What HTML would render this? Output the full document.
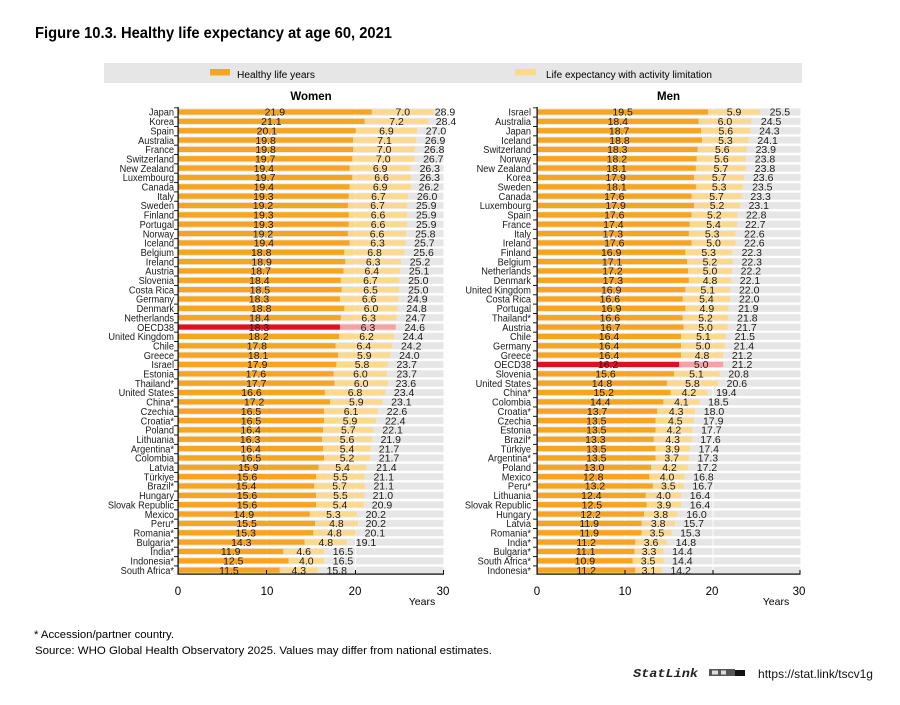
<!DOCTYPE html>
<html><head><meta charset="utf-8"><style>
html,body{margin:0;padding:0;background:#fff;}
svg{display:block;font-family:"Liberation Sans",Arial,sans-serif;}
.v text{font-size:10.5px;fill:#1a1a1a;text-anchor:middle;}
.n text{font-size:10.5px;fill:#1a1a1a;}
.a{fill:#F7A520;}
.b{fill:#FDD98C;}
</style></head><body>
<svg width="900" height="705" viewBox="0 0 900 705" xmlns="http://www.w3.org/2000/svg">
<defs>
<pattern id="bd" x="0" y="107.3" width="10" height="9.35" patternUnits="userSpaceOnUse"><rect y="1.2" width="10" height="7" fill="#e6e6e6"/></pattern>
<pattern id="tk" x="0" y="107.3" width="4" height="9.35" patternUnits="userSpaceOnUse"><rect width="4" height="0.9" fill="#000"/></pattern>
</defs>
<rect width="900" height="705" fill="#fff"/>
<text x="35" y="38" font-size="15.5" font-weight="bold" fill="#000" textLength="357" lengthAdjust="spacingAndGlyphs">Figure 10.3. Healthy life expectancy at age 60, 2021</text>

<!-- legend -->
<rect x="104" y="63" width="698" height="20" fill="#e6e6e6"/>
<rect x="210" y="69" width="20" height="6.5" fill="#F7A520"/>
<text x="237" y="78" font-size="10" fill="#000" textLength="78" lengthAdjust="spacingAndGlyphs">Healthy life years</text>
<rect x="515" y="69" width="21" height="6.5" fill="#FDD98C"/>
<text x="546" y="78" font-size="10" fill="#000" textLength="166" lengthAdjust="spacingAndGlyphs">Life expectancy with activity limitation</text>

<text x="311" y="100" font-size="11.5" font-weight="bold" text-anchor="middle" fill="#000">Women</text>
<text x="668.5" y="100" font-size="11.5" font-weight="bold" text-anchor="middle" fill="#000">Men</text>

<!-- ===== WOMEN PANEL ===== -->
<rect x="178" y="107.3" width="265.5" height="467.5" fill="url(#bd)"/>
<rect x="266" y="107.3" width="1" height="467" fill="#fff"/>
<rect x="355" y="107.3" width="1" height="467" fill="#fff"/>
<g transform="translate(178,109.4) scale(8.85,9.35)">
<g class="a">
<rect y="0" width="21.9" height=".556"/><rect y="1" width="21.1" height=".556"/><rect y="2" width="20.1" height=".556"/><rect y="3" width="19.8" height=".556"/><rect y="4" width="19.8" height=".556"/><rect y="5" width="19.7" height=".556"/><rect y="6" width="19.4" height=".556"/><rect y="7" width="19.7" height=".556"/><rect y="8" width="19.4" height=".556"/><rect y="9" width="19.3" height=".556"/><rect y="10" width="19.2" height=".556"/><rect y="11" width="19.3" height=".556"/><rect y="12" width="19.3" height=".556"/><rect y="13" width="19.2" height=".556"/><rect y="14" width="19.4" height=".556"/><rect y="15" width="18.8" height=".556"/><rect y="16" width="18.9" height=".556"/><rect y="17" width="18.7" height=".556"/><rect y="18" width="18.4" height=".556"/><rect y="19" width="18.5" height=".556"/><rect y="20" width="18.3" height=".556"/><rect y="21" width="18.8" height=".556"/><rect y="22" width="18.4" height=".556"/><rect y="24" width="18.2" height=".556"/><rect y="25" width="17.8" height=".556"/><rect y="26" width="18.1" height=".556"/><rect y="27" width="17.9" height=".556"/><rect y="28" width="17.6" height=".556"/><rect y="29" width="17.7" height=".556"/><rect y="30" width="16.6" height=".556"/><rect y="31" width="17.2" height=".556"/><rect y="32" width="16.5" height=".556"/><rect y="33" width="16.5" height=".556"/><rect y="34" width="16.4" height=".556"/><rect y="35" width="16.3" height=".556"/><rect y="36" width="16.4" height=".556"/><rect y="37" width="16.5" height=".556"/><rect y="38" width="15.9" height=".556"/><rect y="39" width="15.6" height=".556"/><rect y="40" width="15.4" height=".556"/><rect y="41" width="15.6" height=".556"/><rect y="42" width="15.6" height=".556"/><rect y="43" width="14.9" height=".556"/><rect y="44" width="15.5" height=".556"/><rect y="45" width="15.3" height=".556"/><rect y="46" width="14.3" height=".556"/><rect y="47" width="11.9" height=".556"/><rect y="48" width="12.5" height=".556"/><rect y="49" width="11.5" height=".556"/>
</g>
<g class="b">
<rect x="21.9" y="0" width="7.0" height=".556"/><rect x="21.1" y="1" width="7.2" height=".556"/><rect x="20.1" y="2" width="6.9" height=".556"/><rect x="19.8" y="3" width="7.1" height=".556"/><rect x="19.8" y="4" width="7.0" height=".556"/><rect x="19.7" y="5" width="7.0" height=".556"/><rect x="19.4" y="6" width="6.9" height=".556"/><rect x="19.7" y="7" width="6.6" height=".556"/><rect x="19.4" y="8" width="6.9" height=".556"/><rect x="19.3" y="9" width="6.7" height=".556"/><rect x="19.2" y="10" width="6.7" height=".556"/><rect x="19.3" y="11" width="6.6" height=".556"/><rect x="19.3" y="12" width="6.6" height=".556"/><rect x="19.2" y="13" width="6.6" height=".556"/><rect x="19.4" y="14" width="6.3" height=".556"/><rect x="18.8" y="15" width="6.8" height=".556"/><rect x="18.9" y="16" width="6.3" height=".556"/><rect x="18.7" y="17" width="6.4" height=".556"/><rect x="18.4" y="18" width="6.6" height=".556"/><rect x="18.5" y="19" width="6.5" height=".556"/><rect x="18.3" y="20" width="6.6" height=".556"/><rect x="18.8" y="21" width="6.0" height=".556"/><rect x="18.4" y="22" width="6.3" height=".556"/><rect x="18.2" y="24" width="6.2" height=".556"/><rect x="17.8" y="25" width="6.4" height=".556"/><rect x="18.1" y="26" width="5.9" height=".556"/><rect x="17.9" y="27" width="5.8" height=".556"/><rect x="17.6" y="28" width="6.0" height=".556"/><rect x="17.7" y="29" width="6.0" height=".556"/><rect x="16.6" y="30" width="6.8" height=".556"/><rect x="17.2" y="31" width="5.9" height=".556"/><rect x="16.5" y="32" width="6.1" height=".556"/><rect x="16.5" y="33" width="5.9" height=".556"/><rect x="16.4" y="34" width="5.7" height=".556"/><rect x="16.3" y="35" width="5.6" height=".556"/><rect x="16.4" y="36" width="5.4" height=".556"/><rect x="16.5" y="37" width="5.2" height=".556"/><rect x="15.9" y="38" width="5.4" height=".556"/><rect x="15.6" y="39" width="5.5" height=".556"/><rect x="15.4" y="40" width="5.7" height=".556"/><rect x="15.6" y="41" width="5.5" height=".556"/><rect x="15.6" y="42" width="5.4" height=".556"/><rect x="14.9" y="43" width="5.3" height=".556"/><rect x="15.5" y="44" width="4.8" height=".556"/><rect x="15.3" y="45" width="4.8" height=".556"/><rect x="14.3" y="46" width="4.8" height=".556"/><rect x="11.9" y="47" width="4.6" height=".556"/><rect x="12.5" y="48" width="4.0" height=".556"/><rect x="11.5" y="49" width="4.3" height=".556"/>
</g>
<rect y="23" width="18.3" height=".556" fill="#E2101E"/>
<rect x="18.3" y="23" width="6.3" height=".556" fill="#F4A3A0"/>
</g>
<!-- women axes -->
<rect x="174" y="107.3" width="4" height="467.5" fill="url(#tk)"/>
<rect x="177.5" y="107" width="1.2" height="467.5" fill="#000"/>
<rect x="177.5" y="573.5" width="266.5" height="1.2" fill="#000"/>
<rect x="266" y="570" width="1" height="4" fill="#000"/>
<rect x="355" y="570" width="1" height="4" fill="#000"/>
<rect x="443" y="570" width="1" height="4" fill="#000"/>
<g font-size="11.5" fill="#000" text-anchor="middle">
<text x="178" y="595">0</text><text x="267" y="595">10</text><text x="355" y="595">20</text><text x="443" y="595">30</text>
</g>
<text x="422" y="605" font-size="10.5" text-anchor="middle" fill="#000">Years</text>

<g class="n" transform="translate(174,0) scale(0.88,1)" text-anchor="end">
<text y="115.7">Japan</text><text y="125.1">Korea</text><text y="134.4">Spain</text><text y="143.8">Australia</text><text y="153.1">France</text><text y="162.5">Switzerland</text><text y="171.8">New Zealand</text><text y="181.2">Luxembourg</text><text y="190.5">Canada</text><text y="199.9">Italy</text><text y="209.2">Sweden</text><text y="218.6">Finland</text><text y="227.9">Portugal</text><text y="237.3">Norway</text><text y="246.6">Iceland</text><text y="256.0">Belgium</text><text y="265.3">Ireland</text><text y="274.7">Austria</text><text y="284.0">Slovenia</text><text y="293.4">Costa Rica</text><text y="302.7">Germany</text><text y="312.1">Denmark</text><text y="321.4">Netherlands</text><text y="330.8">OECD38</text><text y="340.1">United Kingdom</text><text y="349.5">Chile</text><text y="358.8">Greece</text><text y="368.2">Israel</text><text y="377.5">Estonia</text><text y="386.9">Thailand*</text><text y="396.2">United States</text><text y="405.6">China*</text><text y="414.9">Czechia</text><text y="424.3">Croatia*</text><text y="433.6">Poland</text><text y="443.0">Lithuania</text><text y="452.3">Argentina*</text><text y="461.7">Colombia</text><text y="471.0">Latvia</text><text y="480.4">Türkiye</text><text y="489.7">Brazil*</text><text y="499.1">Hungary</text><text y="508.4">Slovak Republic</text><text y="517.8">Mexico</text><text y="527.1">Peru*</text><text y="536.5">Romania*</text><text y="545.8">Bulgaria*</text><text y="555.2">India*</text><text y="564.5">Indonesia*</text><text y="573.9">South Africa*</text>
</g>

<g class="v">
<text x="274.9" y="115.7">21.9</text><text x="402.8" y="115.7">7.0</text><text x="445" y="115.7">28.9</text>
<text x="271.4" y="125.1">21.1</text><text x="396.6" y="125.1">7.2</text><text x="446" y="125.1">28.4</text>
<text x="266.9" y="134.4">20.1</text><text x="386.4" y="134.4">6.9</text><text x="436.0" y="134.4">27.0</text>
<text x="265.6" y="143.8">19.8</text><text x="384.6" y="143.8">7.1</text><text x="435.1" y="143.8">26.9</text>
<text x="265.6" y="153.1">19.8</text><text x="384.2" y="153.1">7.0</text><text x="434.2" y="153.1">26.8</text>
<text x="265.2" y="162.5">19.7</text><text x="383.3" y="162.5">7.0</text><text x="433.3" y="162.5">26.7</text>
<text x="263.8" y="171.8">19.4</text><text x="380.2" y="171.8">6.9</text><text x="429.8" y="171.8">26.3</text>
<text x="265.2" y="181.2">19.7</text><text x="381.5" y="181.2">6.6</text><text x="429.8" y="181.2">26.3</text>
<text x="263.8" y="190.5">19.4</text><text x="380.2" y="190.5">6.9</text><text x="428.9" y="190.5">26.2</text>
<text x="263.4" y="199.9">19.3</text><text x="378.4" y="199.9">6.7</text><text x="427.1" y="199.9">26.0</text>
<text x="263.0" y="209.2">19.2</text><text x="377.5" y="209.2">6.7</text><text x="426.2" y="209.2">25.9</text>
<text x="263.4" y="218.6">19.3</text><text x="378.0" y="218.6">6.6</text><text x="426.2" y="218.6">25.9</text>
<text x="263.4" y="227.9">19.3</text><text x="378.0" y="227.9">6.6</text><text x="426.2" y="227.9">25.9</text>
<text x="263.0" y="237.3">19.2</text><text x="377.1" y="237.3">6.6</text><text x="425.3" y="237.3">25.8</text>
<text x="263.8" y="246.6">19.4</text><text x="377.6" y="246.6">6.3</text><text x="424.4" y="246.6">25.7</text>
<text x="261.2" y="256.0">18.8</text><text x="374.5" y="256.0">6.8</text><text x="423.6" y="256.0">25.6</text>
<text x="261.6" y="265.3">18.9</text><text x="373.2" y="265.3">6.3</text><text x="420.0" y="265.3">25.2</text>
<text x="260.7" y="274.7">18.7</text><text x="371.8" y="274.7">6.4</text><text x="419.1" y="274.7">25.1</text>
<text x="259.4" y="284.0">18.4</text><text x="370.4" y="284.0">6.7</text><text x="418.3" y="284.0">25.0</text>
<text x="259.9" y="293.4">18.5</text><text x="370.5" y="293.4">6.5</text><text x="418.3" y="293.4">25.0</text>
<text x="259.0" y="302.7">18.3</text><text x="369.2" y="302.7">6.6</text><text x="417.4" y="302.7">24.9</text>
<text x="261.2" y="312.1">18.8</text><text x="371.0" y="312.1">6.0</text><text x="416.5" y="312.1">24.8</text>
<text x="259.4" y="321.4">18.4</text><text x="368.7" y="321.4">6.3</text><text x="415.6" y="321.4">24.7</text>
<text x="259.0" y="330.8">18.3</text><text x="367.9" y="330.8">6.3</text><text x="414.7" y="330.8">24.6</text>
<text x="258.5" y="340.1">18.2</text><text x="366.5" y="340.1">6.2</text><text x="412.9" y="340.1">24.4</text>
<text x="256.8" y="349.5">17.8</text><text x="363.8" y="349.5">6.4</text><text x="411.2" y="349.5">24.2</text>
<text x="258.1" y="358.8">18.1</text><text x="364.3" y="358.8">5.9</text><text x="409.4" y="358.8">24.0</text>
<text x="257.2" y="368.2">17.9</text><text x="362.1" y="368.2">5.8</text><text x="406.7" y="368.2">23.7</text>
<text x="255.9" y="377.5">17.6</text><text x="360.4" y="377.5">6.0</text><text x="406.7" y="377.5">23.7</text>
<text x="256.3" y="386.9">17.7</text><text x="361.2" y="386.9">6.0</text><text x="405.9" y="386.9">23.6</text>
<text x="251.5" y="396.2">16.6</text><text x="355.0" y="396.2">6.8</text><text x="404.1" y="396.2">23.4</text>
<text x="254.1" y="405.6">17.2</text><text x="356.3" y="405.6">5.9</text><text x="401.4" y="405.6">23.1</text>
<text x="251.0" y="414.9">16.5</text><text x="351.0" y="414.9">6.1</text><text x="397.0" y="414.9">22.6</text>
<text x="251.0" y="424.3">16.5</text><text x="350.1" y="424.3">5.9</text><text x="395.2" y="424.3">22.4</text>
<text x="250.6" y="433.6">16.4</text><text x="348.3" y="433.6">5.7</text><text x="392.6" y="433.6">22.1</text>
<text x="250.1" y="443.0">16.3</text><text x="347.1" y="443.0">5.6</text><text x="390.8" y="443.0">21.9</text>
<text x="250.6" y="452.3">16.4</text><text x="347.0" y="452.3">5.4</text><text x="389.0" y="452.3">21.7</text>
<text x="251.0" y="461.7">16.5</text><text x="347.0" y="461.7">5.2</text><text x="389.0" y="461.7">21.7</text>
<text x="248.4" y="471.0">15.9</text><text x="342.6" y="471.0">5.4</text><text x="386.4" y="471.0">21.4</text>
<text x="247.0" y="480.4">15.6</text><text x="340.4" y="480.4">5.5</text><text x="383.7" y="480.4">21.1</text>
<text x="246.1" y="489.7">15.4</text><text x="339.5" y="489.7">5.7</text><text x="383.7" y="489.7">21.1</text>
<text x="247.0" y="499.1">15.6</text><text x="340.4" y="499.1">5.5</text><text x="382.9" y="499.1">21.0</text>
<text x="247.0" y="508.4">15.6</text><text x="340.0" y="508.4">5.4</text><text x="382.0" y="508.4">20.9</text>
<text x="243.9" y="517.8">14.9</text><text x="333.4" y="517.8">5.3</text><text x="375.8" y="517.8">20.2</text>
<text x="246.6" y="527.1">15.5</text><text x="336.4" y="527.1">4.8</text><text x="375.8" y="527.1">20.2</text>
<text x="245.7" y="536.5">15.3</text><text x="334.6" y="536.5">4.8</text><text x="374.9" y="536.5">20.1</text>
<text x="241.3" y="545.8">14.3</text><text x="325.8" y="545.8">4.8</text><text x="366.0" y="545.8">19.1</text>
<text x="230.7" y="555.2">11.9</text><text x="303.7" y="555.2">4.6</text><text x="343.0" y="555.2">16.5</text>
<text x="233.3" y="564.5">12.5</text><text x="306.3" y="564.5">4.0</text><text x="343.0" y="564.5">16.5</text>
<text x="228.9" y="573.9">11.5</text><text x="298.8" y="573.9">4.3</text><text x="336.8" y="573.9">15.8</text>
</g>

<!-- ===== MEN PANEL ===== -->
<rect x="537" y="107.3" width="263.5" height="467.5" fill="url(#bd)"/>
<rect x="624.5" y="107.3" width="1" height="467" fill="#fff"/>
<rect x="712.5" y="107.3" width="1" height="467" fill="#fff"/>
<g transform="translate(537,109.4) scale(8.78,9.35)">
<g class="a">
<rect y="0" width="19.5" height=".556"/><rect y="1" width="18.4" height=".556"/><rect y="2" width="18.7" height=".556"/><rect y="3" width="18.8" height=".556"/><rect y="4" width="18.3" height=".556"/><rect y="5" width="18.2" height=".556"/><rect y="6" width="18.1" height=".556"/><rect y="7" width="17.9" height=".556"/><rect y="8" width="18.1" height=".556"/><rect y="9" width="17.6" height=".556"/><rect y="10" width="17.9" height=".556"/><rect y="11" width="17.6" height=".556"/><rect y="12" width="17.4" height=".556"/><rect y="13" width="17.3" height=".556"/><rect y="14" width="17.6" height=".556"/><rect y="15" width="16.9" height=".556"/><rect y="16" width="17.1" height=".556"/><rect y="17" width="17.2" height=".556"/><rect y="18" width="17.3" height=".556"/><rect y="19" width="16.9" height=".556"/><rect y="20" width="16.6" height=".556"/><rect y="21" width="16.9" height=".556"/><rect y="22" width="16.6" height=".556"/><rect y="23" width="16.7" height=".556"/><rect y="24" width="16.4" height=".556"/><rect y="25" width="16.4" height=".556"/><rect y="26" width="16.4" height=".556"/><rect y="28" width="15.6" height=".556"/><rect y="29" width="14.8" height=".556"/><rect y="30" width="15.2" height=".556"/><rect y="31" width="14.4" height=".556"/><rect y="32" width="13.7" height=".556"/><rect y="33" width="13.5" height=".556"/><rect y="34" width="13.5" height=".556"/><rect y="35" width="13.3" height=".556"/><rect y="36" width="13.5" height=".556"/><rect y="37" width="13.5" height=".556"/><rect y="38" width="13.0" height=".556"/><rect y="39" width="12.8" height=".556"/><rect y="40" width="13.2" height=".556"/><rect y="41" width="12.4" height=".556"/><rect y="42" width="12.5" height=".556"/><rect y="43" width="12.2" height=".556"/><rect y="44" width="11.9" height=".556"/><rect y="45" width="11.9" height=".556"/><rect y="46" width="11.2" height=".556"/><rect y="47" width="11.1" height=".556"/><rect y="48" width="10.9" height=".556"/><rect y="49" width="11.2" height=".556"/>
</g>
<g class="b">
<rect x="19.5" y="0" width="5.9" height=".556"/><rect x="18.4" y="1" width="6.0" height=".556"/><rect x="18.7" y="2" width="5.6" height=".556"/><rect x="18.8" y="3" width="5.3" height=".556"/><rect x="18.3" y="4" width="5.6" height=".556"/><rect x="18.2" y="5" width="5.6" height=".556"/><rect x="18.1" y="6" width="5.7" height=".556"/><rect x="17.9" y="7" width="5.7" height=".556"/><rect x="18.1" y="8" width="5.3" height=".556"/><rect x="17.6" y="9" width="5.7" height=".556"/><rect x="17.9" y="10" width="5.2" height=".556"/><rect x="17.6" y="11" width="5.2" height=".556"/><rect x="17.4" y="12" width="5.4" height=".556"/><rect x="17.3" y="13" width="5.3" height=".556"/><rect x="17.6" y="14" width="5.0" height=".556"/><rect x="16.9" y="15" width="5.3" height=".556"/><rect x="17.1" y="16" width="5.2" height=".556"/><rect x="17.2" y="17" width="5.0" height=".556"/><rect x="17.3" y="18" width="4.8" height=".556"/><rect x="16.9" y="19" width="5.1" height=".556"/><rect x="16.6" y="20" width="5.4" height=".556"/><rect x="16.9" y="21" width="4.9" height=".556"/><rect x="16.6" y="22" width="5.2" height=".556"/><rect x="16.7" y="23" width="5.0" height=".556"/><rect x="16.4" y="24" width="5.1" height=".556"/><rect x="16.4" y="25" width="5.0" height=".556"/><rect x="16.4" y="26" width="4.8" height=".556"/><rect x="15.6" y="28" width="5.2" height=".556"/><rect x="14.8" y="29" width="5.8" height=".556"/><rect x="15.2" y="30" width="4.2" height=".556"/><rect x="14.4" y="31" width="4.1" height=".556"/><rect x="13.7" y="32" width="4.3" height=".556"/><rect x="13.5" y="33" width="4.4" height=".556"/><rect x="13.5" y="34" width="4.2" height=".556"/><rect x="13.3" y="35" width="4.3" height=".556"/><rect x="13.5" y="36" width="3.9" height=".556"/><rect x="13.5" y="37" width="3.8" height=".556"/><rect x="13.0" y="38" width="4.2" height=".556"/><rect x="12.8" y="39" width="4.0" height=".556"/><rect x="13.2" y="40" width="3.5" height=".556"/><rect x="12.4" y="41" width="4.0" height=".556"/><rect x="12.5" y="42" width="3.9" height=".556"/><rect x="12.2" y="43" width="3.8" height=".556"/><rect x="11.9" y="44" width="3.8" height=".556"/><rect x="11.9" y="45" width="3.4" height=".556"/><rect x="11.2" y="46" width="3.6" height=".556"/><rect x="11.1" y="47" width="3.3" height=".556"/><rect x="10.9" y="48" width="3.5" height=".556"/><rect x="11.2" y="49" width="3.0" height=".556"/>
</g>
<rect y="27" width="16.2" height=".556" fill="#E2101E"/>
<rect x="16.2" y="27" width="5.0" height=".556" fill="#F4A3A0"/>
</g>
<!-- men axes -->
<rect x="533" y="107.3" width="4" height="467.5" fill="url(#tk)"/>
<rect x="536.5" y="107" width="1.2" height="467.5" fill="#000"/>
<rect x="536.5" y="573.5" width="264" height="1.2" fill="#000"/>
<rect x="624.5" y="570" width="1" height="4" fill="#000"/>
<rect x="712.5" y="570" width="1" height="4" fill="#000"/>
<rect x="799.5" y="570" width="1" height="4" fill="#000"/>
<g font-size="11.5" fill="#000" text-anchor="middle">
<text x="537" y="595">0</text><text x="625" y="595">10</text><text x="712" y="595">20</text><text x="799" y="595">30</text>
</g>
<text x="776" y="605" font-size="10.5" text-anchor="middle" fill="#000">Years</text>

<g class="n" transform="translate(531,0) scale(0.88,1)" text-anchor="end">
<text y="115.7">Israel</text><text y="125.1">Australia</text><text y="134.4">Japan</text><text y="143.8">Iceland</text><text y="153.1">Switzerland</text><text y="162.5">Norway</text><text y="171.8">New Zealand</text><text y="181.2">Korea</text><text y="190.5">Sweden</text><text y="199.9">Canada</text><text y="209.2">Luxembourg</text><text y="218.6">Spain</text><text y="227.9">France</text><text y="237.3">Italy</text><text y="246.6">Ireland</text><text y="256.0">Finland</text><text y="265.3">Belgium</text><text y="274.7">Netherlands</text><text y="284.0">Denmark</text><text y="293.4">United Kingdom</text><text y="302.7">Costa Rica</text><text y="312.1">Portugal</text><text y="321.4">Thailand*</text><text y="330.8">Austria</text><text y="340.1">Chile</text><text y="349.5">Germany</text><text y="358.8">Greece</text><text y="368.2">OECD38</text><text y="377.5">Slovenia</text><text y="386.9">United States</text><text y="396.2">China*</text><text y="405.6">Colombia</text><text y="414.9">Croatia*</text><text y="424.3">Czechia</text><text y="433.6">Estonia</text><text y="443.0">Brazil*</text><text y="452.3">Türkiye</text><text y="461.7">Argentina*</text><text y="471.0">Poland</text><text y="480.4">Mexico</text><text y="489.7">Peru*</text><text y="499.1">Lithuania</text><text y="508.4">Slovak Republic</text><text y="517.8">Hungary</text><text y="527.1">Latvia</text><text y="536.5">Romania*</text><text y="545.8">India*</text><text y="555.2">Bulgaria*</text><text y="564.5">South Africa*</text><text y="573.9">Indonesia*</text>
</g>

<g class="v">
<text x="622.6" y="115.7">19.5</text><text x="734.1" y="115.7">5.9</text><text x="779.9" y="115.7">25.5</text>
<text x="617.8" y="125.1">18.4</text><text x="724.9" y="125.1">6.0</text><text x="771.1" y="125.1">24.5</text>
<text x="619.1" y="134.4">18.7</text><text x="725.8" y="134.4">5.6</text><text x="769.4" y="134.4">24.3</text>
<text x="619.5" y="143.8">18.8</text><text x="725.4" y="143.8">5.3</text><text x="767.6" y="143.8">24.1</text>
<text x="617.3" y="153.1">18.3</text><text x="722.3" y="153.1">5.6</text><text x="765.8" y="153.1">23.9</text>
<text x="616.9" y="162.5">18.2</text><text x="721.4" y="162.5">5.6</text><text x="765.0" y="162.5">23.8</text>
<text x="616.5" y="171.8">18.1</text><text x="720.9" y="171.8">5.7</text><text x="765.0" y="171.8">23.8</text>
<text x="615.6" y="181.2">17.9</text><text x="719.2" y="181.2">5.7</text><text x="763.2" y="181.2">23.6</text>
<text x="616.5" y="190.5">18.1</text><text x="719.2" y="190.5">5.3</text><text x="762.3" y="190.5">23.5</text>
<text x="614.3" y="199.9">17.6</text><text x="716.5" y="199.9">5.7</text><text x="760.6" y="199.9">23.3</text>
<text x="615.6" y="209.2">17.9</text><text x="717.0" y="209.2">5.2</text><text x="758.8" y="209.2">23.1</text>
<text x="614.3" y="218.6">17.6</text><text x="714.3" y="218.6">5.2</text><text x="756.2" y="218.6">22.8</text>
<text x="613.4" y="227.9">17.4</text><text x="713.5" y="227.9">5.4</text><text x="755.3" y="227.9">22.7</text>
<text x="612.9" y="237.3">17.3</text><text x="712.2" y="237.3">5.3</text><text x="754.4" y="237.3">22.6</text>
<text x="614.3" y="246.6">17.6</text><text x="713.5" y="246.6">5.0</text><text x="754.4" y="246.6">22.6</text>
<text x="611.2" y="256.0">16.9</text><text x="708.7" y="256.0">5.3</text><text x="751.8" y="256.0">22.3</text>
<text x="612.1" y="265.3">17.1</text><text x="709.9" y="265.3">5.2</text><text x="751.8" y="265.3">22.3</text>
<text x="612.5" y="274.7">17.2</text><text x="710.0" y="274.7">5.0</text><text x="750.9" y="274.7">22.2</text>
<text x="612.9" y="284.0">17.3</text><text x="710.0" y="284.0">4.8</text><text x="750.0" y="284.0">22.1</text>
<text x="611.2" y="293.4">16.9</text><text x="707.8" y="293.4">5.1</text><text x="749.2" y="293.4">22.0</text>
<text x="609.9" y="302.7">16.6</text><text x="706.4" y="302.7">5.4</text><text x="749.2" y="302.7">22.0</text>
<text x="611.2" y="312.1">16.9</text><text x="706.9" y="312.1">4.9</text><text x="748.3" y="312.1">21.9</text>
<text x="609.9" y="321.4">16.6</text><text x="705.5" y="321.4">5.2</text><text x="747.4" y="321.4">21.8</text>
<text x="610.3" y="330.8">16.7</text><text x="705.6" y="330.8">5.0</text><text x="746.5" y="330.8">21.7</text>
<text x="609.0" y="340.1">16.4</text><text x="703.4" y="340.1">5.1</text><text x="744.8" y="340.1">21.5</text>
<text x="609.0" y="349.5">16.4</text><text x="703.0" y="349.5">5.0</text><text x="743.9" y="349.5">21.4</text>
<text x="609.0" y="358.8">16.4</text><text x="702.1" y="358.8">4.8</text><text x="742.1" y="358.8">21.2</text>
<text x="608.1" y="368.2">16.2</text><text x="701.2" y="368.2">5.0</text><text x="742.1" y="368.2">21.2</text>
<text x="605.5" y="377.5">15.6</text><text x="696.4" y="377.5">5.1</text><text x="738.6" y="377.5">20.8</text>
<text x="602.0" y="386.9">14.8</text><text x="692.4" y="386.9">5.8</text><text x="736.9" y="386.9">20.6</text>
<text x="603.7" y="396.2">15.2</text><text x="688.9" y="396.2">4.2</text><text x="726.3" y="396.2">19.4</text>
<text x="600.2" y="405.6">14.4</text><text x="681.4" y="405.6">4.1</text><text x="718.4" y="405.6">18.5</text>
<text x="597.1" y="414.9">13.7</text><text x="676.2" y="414.9">4.3</text><text x="714.0" y="414.9">18.0</text>
<text x="596.3" y="424.3">13.5</text><text x="675.3" y="424.3">4.5</text><text x="713.2" y="424.3">17.9</text>
<text x="596.3" y="433.6">13.5</text><text x="673.9" y="433.6">4.2</text><text x="711.4" y="433.6">17.7</text>
<text x="595.4" y="443.0">13.3</text><text x="672.7" y="443.0">4.3</text><text x="710.5" y="443.0">17.6</text>
<text x="596.3" y="452.3">13.5</text><text x="672.6" y="452.3">3.9</text><text x="708.8" y="452.3">17.4</text>
<text x="596.3" y="461.7">13.5</text><text x="671.7" y="461.7">3.7</text><text x="707.9" y="461.7">17.3</text>
<text x="594.1" y="471.0">13.0</text><text x="669.5" y="471.0">4.2</text><text x="707.0" y="471.0">17.2</text>
<text x="593.2" y="480.4">12.8</text><text x="667.0" y="480.4">4.0</text><text x="703.5" y="480.4">16.8</text>
<text x="595.0" y="489.7">13.2</text><text x="668.3" y="489.7">3.5</text><text x="702.6" y="489.7">16.7</text>
<text x="591.4" y="499.1">12.4</text><text x="663.5" y="499.1">4.0</text><text x="700.0" y="499.1">16.4</text>
<text x="591.9" y="508.4">12.5</text><text x="663.9" y="508.4">3.9</text><text x="700.0" y="508.4">16.4</text>
<text x="590.6" y="517.8">12.2</text><text x="660.8" y="517.8">3.8</text><text x="696.5" y="517.8">16.0</text>
<text x="589.2" y="527.1">11.9</text><text x="658.2" y="527.1">3.8</text><text x="693.8" y="527.1">15.7</text>
<text x="589.2" y="536.5">11.9</text><text x="656.9" y="536.5">3.5</text><text x="690.3" y="536.5">15.3</text>
<text x="586.2" y="545.8">11.2</text><text x="651.1" y="545.8">3.6</text><text x="685.9" y="545.8">14.8</text>
<text x="585.7" y="555.2">11.1</text><text x="649.0" y="555.2">3.3</text><text x="682.4" y="555.2">14.4</text>
<text x="584.9" y="564.5">10.9</text><text x="648.1" y="564.5">3.5</text><text x="682.4" y="564.5">14.4</text>
<text x="586.2" y="573.9">11.2</text><text x="648.9" y="573.9">3.1</text><text x="680.7" y="573.9">14.2</text>
</g>

<!-- footnotes -->
<text x="34" y="638" font-size="11" fill="#000" textLength="140" lengthAdjust="spacingAndGlyphs">* Accession/partner country.</text>
<text x="35" y="654" font-size="11" fill="#000" textLength="457" lengthAdjust="spacingAndGlyphs">Source: WHO Global Health Observatory 2025. Values may differ from national estimates.</text>

<!-- statlink -->
<text x="633" y="677" font-family="Liberation Mono, monospace" font-size="11.5" font-weight="bold" font-style="italic" fill="#222" textLength="65" lengthAdjust="spacingAndGlyphs">StatLink</text>
<g>
<rect x="709" y="669" width="26" height="7" fill="#555"/>
<rect x="712" y="670.5" width="6" height="4" fill="#ddd"/>
<rect x="721" y="670.5" width="5" height="4" fill="#ddd"/>
<rect x="735" y="670" width="10" height="6" fill="#111"/>
</g>
<text x="758" y="678" font-size="12" fill="#111" textLength="115" lengthAdjust="spacingAndGlyphs">https://stat.link/tscv1g</text>
</svg>
</body></html>
